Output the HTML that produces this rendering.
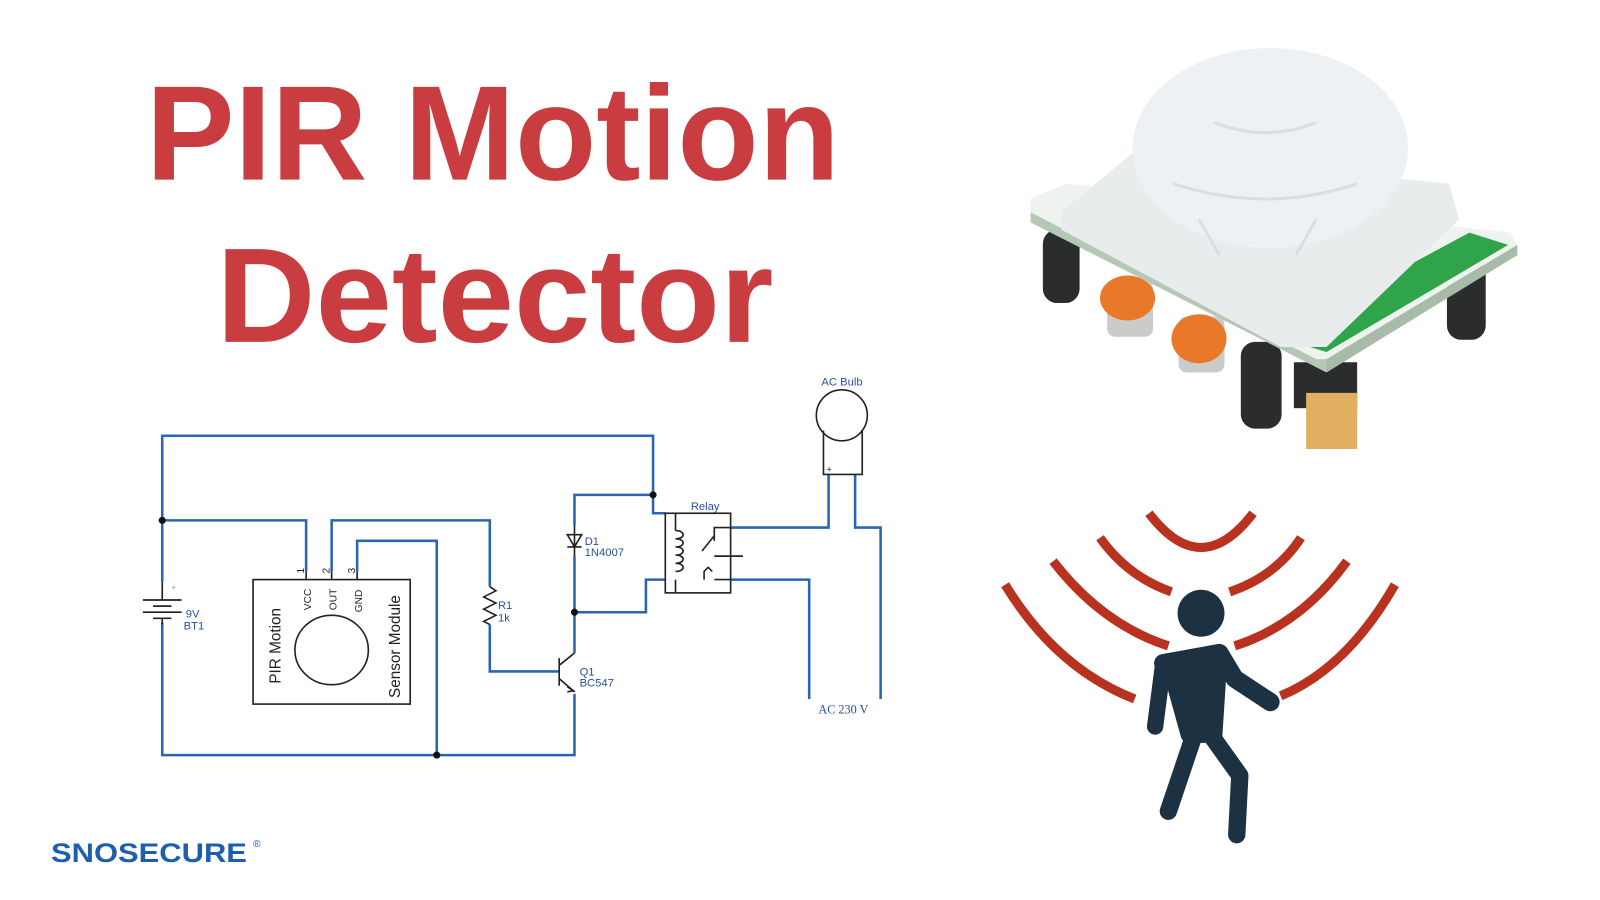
<!DOCTYPE html>
<html><head><meta charset="utf-8"><style>
html,body{margin:0;padding:0;background:#fff;width:1600px;height:900px;overflow:hidden}
#w{width:1568px;height:882px;transform:scale(1.020408);transform-origin:0 0}
</style></head><body><div id="w">
<svg width="1568" height="882" viewBox="0 0 1568 882" xmlns="http://www.w3.org/2000/svg">
<rect width="1568" height="882" fill="#fff"/>
<g fill="#c93d40" font-family="Liberation Sans, sans-serif" font-weight="bold" font-size="132">
<text x="143" y="176" textLength="680" lengthAdjust="spacingAndGlyphs">PIR Motion</text>
<text x="212" y="335" textLength="546" lengthAdjust="spacingAndGlyphs">Detector</text>
</g>
<g fill="none" stroke="#2a64b5" stroke-width="2.5">
<path d="M159 570 V427 H640 V503 H652"/>
<path d="M159 510 H300 V560"/>
<path d="M325 560 V510 H480 V575"/>
<path d="M480 612 V658 H548"/>
<path d="M350 560 V530 H428 V740"/>
<path d="M159 610 V740 H563 V680"/>
<path d="M563 640 V600 H633 V568 H652"/>
<path d="M563 600 V545"/>
<path d="M563 515 V485 H640"/>
<path d="M716 517 H812 V465"/>
<path d="M716 568 H793 V685"/>
<path d="M838 465 V517 H863 V685"/>
</g>
<g fill="#111">
<circle cx="159" cy="510" r="3.5"/><circle cx="640" cy="485" r="3.5"/>
<circle cx="563" cy="600" r="3.5"/><circle cx="428" cy="740" r="3.5"/>
</g>
<g fill="none" stroke="#222" stroke-width="1.6">
<path d="M140 588 H178 M150 594 H168 M140 600 H178 M150 606 H168 M159 588 V570 M159 606 V612"/>
<rect x="248" y="568" width="154" height="122"/>
<ellipse cx="325" cy="637" rx="36" ry="34"/>
<path d="M300 560 V568 M325 560 V568 M350 560 V568"/>
<path d="M480 575 L486 579 L474 585 L486 591 L474 597 L486 603 L474 609 L480 612"/>
<path d="M563 515 V545 M556 524 H570 L563 536 L556 524 Z M556 536 H570"/>
<path d="M548 645 V672 M548 652 L563 640 M548 665 L563 678"/>
<path d="M556 673 L562 677 L556 678"/>
<rect x="652" y="503" width="64" height="78"/>
<path d="M662 503 V520 M662 568 V581"/>
<path d="M662 520 c10 0 10 8 0 8 c10 0 10 8 0 8 c10 0 10 8 0 8 c10 0 10 8 0 8 c10 0 10 8 0 8"/>
<path d="M716 517 H700 V530 M688 540 L700 525 M700 545 L712 545 H728 M700 568 H716 M690 568 V560 L694 556 L698 560"/>
<circle cx="825" cy="407" r="25"/>
<path d="M807 422 V465 H845 V422"/>
</g>
<g font-family="Liberation Sans, sans-serif" font-size="11" fill="#2a4fa0">
<text x="182" y="605">9V</text><text x="180" y="617">BT1</text>
<text x="488" y="597">R1</text><text x="488" y="609">1k</text>
<text x="573" y="534">D1</text><text x="573" y="545">1N4007</text>
<text x="568" y="662">Q1</text><text x="568" y="673">BC547</text>
<text x="677" y="500">Relay</text>
<text x="805" y="378">AC Bulb</text>
<text x="802" y="699" font-family="Liberation Serif, serif" font-size="12">AC 230 V</text>
<text x="168" y="578" font-size="8" fill="#999">+</text>
<text x="810" y="463" font-size="9" fill="#222">+</text>
</g>
<g font-family="Liberation Sans, sans-serif" fill="#222">
<text transform="translate(275,670) rotate(-90)" font-size="15">PIR Motion</text>
<text transform="translate(392,684) rotate(-90)" font-size="15">Sensor Module</text>
<text transform="translate(305,598) rotate(-90)" font-size="10">VCC</text>
<text transform="translate(330,598) rotate(-90)" font-size="10">OUT</text>
<text transform="translate(355,600) rotate(-90)" font-size="10">GND</text>
<text transform="translate(298,562) rotate(-90)" font-size="10">1</text>
<text transform="translate(323,562) rotate(-90)" font-size="10">2</text>
<text transform="translate(348,562) rotate(-90)" font-size="10">3</text>
</g>
<text x="50" y="845" font-family="Liberation Sans, sans-serif" font-weight="bold" font-size="26" fill="#1d5fae" textLength="192" lengthAdjust="spacingAndGlyphs">SNOSECURE</text>
<text x="248" y="830" font-family="Liberation Sans, sans-serif" font-size="10" fill="#1d5fae">®</text>
<g>
<rect x="1022" y="225" width="36" height="72" rx="14" fill="#2a2c2e"/>
<rect x="1418" y="255" width="38" height="78" rx="14" fill="#2a2c2e"/>
<rect x="1216" y="335" width="40" height="85" rx="14" fill="#2a2c2e"/>
<rect x="1268" y="355" width="62" height="45" fill="#2a2c2e"/>
<path d="M1280 385 H1330 V440 H1280 Z" fill="#e0b060"/>
<path d="M1010 195 L1045 180 L1480 228 L1487 240 L1300 352 L1290 352 L1010 208 Z" fill="#eef3ef"/>
<path d="M1010 208 L1290 352 L1300 352 L1300 365 L1010 218 Z" fill="#b5c7b5"/>
<path d="M1300 352 L1487 240 L1487 250 L1300 365 Z" fill="#a8bba8"/>
<path d="M1250 330 L1440 228 L1478 240 L1300 345 Z" fill="#2fa44a"/>
<rect x="1085" y="275" width="45" height="55" rx="8" fill="#c9ccc9"/>
<rect x="1155" y="310" width="45" height="55" rx="8" fill="#c9ccc9"/>
<ellipse cx="1105" cy="292" rx="27" ry="22" fill="#e8782a"/>
<ellipse cx="1175" cy="332" rx="27" ry="24" fill="#e8782a"/>
<path d="M1040 208 L1110 150 L1420 180 L1430 215 L1300 340 L1255 340 L1040 225 Z" fill="#e8eced"/>
<ellipse cx="1245" cy="145" rx="135" ry="98" fill="#eef1f3"/>
<path d="M1150 180 Q1240 210 1330 180 M1190 120 Q1240 140 1290 120 M1175 215 L1195 250 M1290 215 L1270 250" stroke="#d8dee1" stroke-width="3" fill="none"/>
</g>
<g fill="none" stroke="#b8321f" stroke-width="9" stroke-linecap="butt">
<path d="M1126 503 Q1177 570 1228 503"/>
<path d="M1078 527 Q1105 565 1148 580"/><path d="M1205 580 Q1250 565 1275 527"/>
<path d="M1032 550 Q1080 612 1145 633"/><path d="M1210 633 Q1275 612 1320 550"/>
<path d="M985 573 Q1035 655 1112 685"/><path d="M1255 682 Q1320 655 1367 573"/>
</g>
<g fill="#1c3142" stroke="#1c3142" stroke-linecap="round" stroke-linejoin="round">
<circle cx="1177" cy="601" r="23" stroke="none"/>
<path d="M1140 650 L1195 640 L1210 665 L1245 688" fill="none" stroke-width="18"/>
<path d="M1140 650 L1132 712" fill="none" stroke-width="16"/>
<path d="M1145 648 L1195 642 L1190 720 L1165 720 Z" stroke-width="16"/>
<path d="M1172 715 L1145 795" fill="none" stroke-width="17"/>
<path d="M1185 718 L1215 760 L1212 818" fill="none" stroke-width="17"/>
</g>
</svg>
</div></body></html>
